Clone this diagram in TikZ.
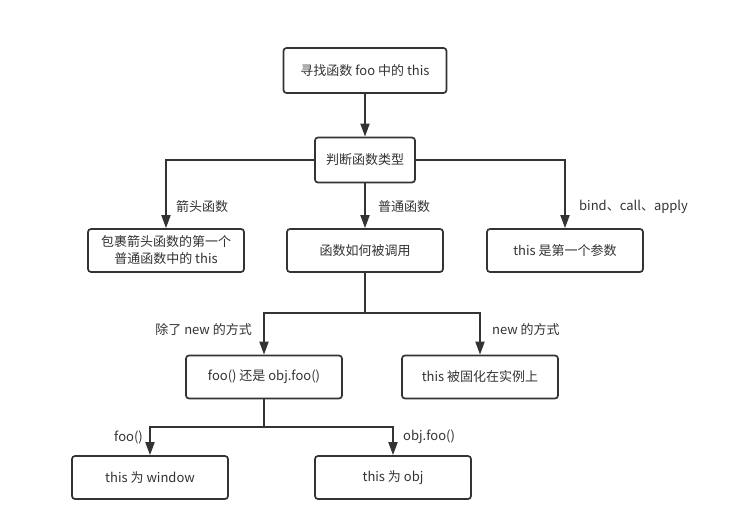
\documentclass[tikz,border=0pt]{standalone}
\usepackage{fontspec}
\setmainfont{Noto Sans CJK SC}
\usetikzlibrary{arrows.meta}
\tikzset{
  stepbox/.style={draw=black!80,line width=1.7pt,rounded corners=3pt,fill=white,minimum width=156pt,minimum height=43pt,align=center,inner sep=2pt},
  arr/.style={draw=black!80,line width=1.8pt,-{Triangle[length=13pt,width=9pt]}},
  lbl/.style={text=black!80,inner sep=0pt}
}
\begin{document}
\begin{tikzpicture}[x=1pt,y=-1pt,font=\fontsize{13}{17}\selectfont,text=black!80]
        \useasboundingbox[fill=white](0,0)rectangle(744,531);
        \node[stepbox,minimum width=163pt,minimum height=45pt](find)at(365,70.5){寻找函数 foo 中的 this};
        \node[stepbox,minimum width=100pt,minimum height=45pt](kind)at(365,160){判断函数类型};
        \node[stepbox](arrow)at(166,250.5){包裹箭头函数的第一个\\普通函数中的 this};
        \node[stepbox](call)at(365,250.5){函数如何被调用};
        \node[stepbox](bind)at(565,250.5){this 是第一个参数};
        \node[stepbox](which)at(264,377){foo() 还是 obj.foo()};
        \node[stepbox](inst)at(480,377){this 被固化在实例上};
        \node[stepbox](win)at(150,477.5){this 为 window};
        \node[stepbox](obj)at(393,477.5){this 为 obj};
        \coordinate(split1)at(365,313);
        \coordinate(split2)at(264,427);
        \draw[arr](find)--(kind);
        \draw[arr](kind.west)-|(arrow.north);
        \draw[arr](kind)--(call);
        \draw[arr](kind.east)-|(bind.north);
        \draw[arr](call.south)--(split1)-|(which.north);
        \draw[arr](split1)-|(inst.north);
        \draw[arr](which.south)--(split2)-|(win.north);
        \draw[arr](split2)-|(obj.north);
        \node[lbl,anchor=west](l1)at(176,207){箭头函数};
        \node[lbl,anchor=west](l2)at(378,207){普通函数};
        \node[lbl,anchor=west](l3)at(579,207){bind、call、apply};
        \node[lbl,anchor=east](l4)at(252,330){除了 new 的方式};
        \node[lbl,anchor=west](l5)at(492,330){new 的方式};
        \node[lbl,anchor=east](l6)at(143,437){foo()};
        \node[lbl,anchor=west](l7)at(403,437){obj.foo()};
\end{tikzpicture}
\end{document}
